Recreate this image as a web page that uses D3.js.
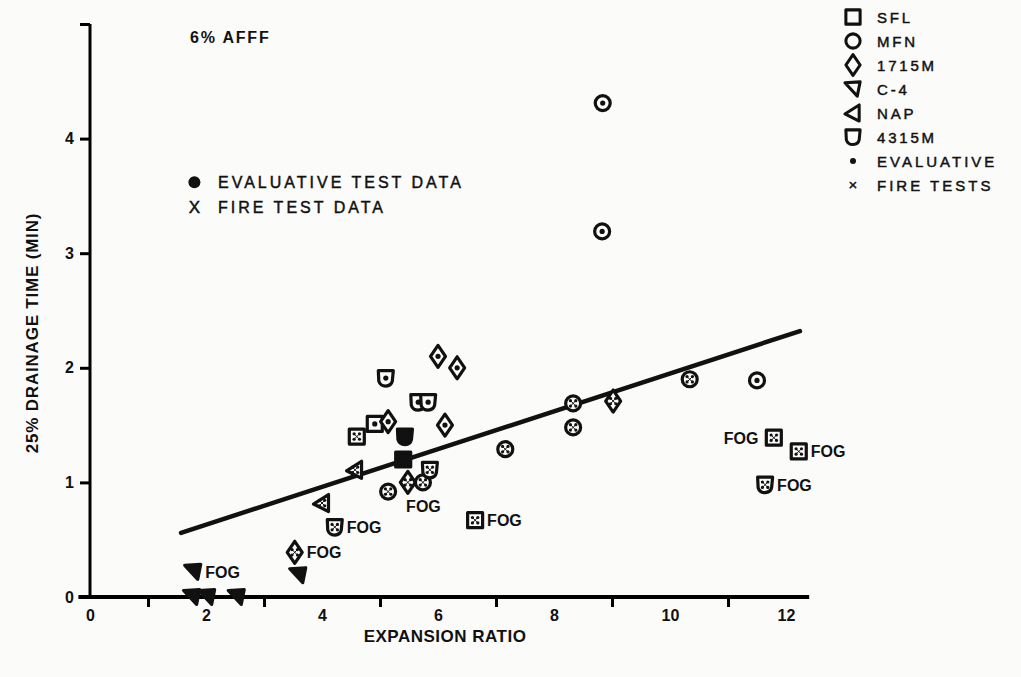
<!DOCTYPE html>
<html><head><meta charset="utf-8">
<script src="https://cdn.jsdelivr.net/npm/d3@7/dist/d3.min.js"></script>
<style>
body{margin:0;background:#fbfbfa;}
text{font-family:"Liberation Sans",Arial,sans-serif;fill:#111;}
text.heavy{stroke:#111;stroke-width:0.45px;}
</style></head>
<body><svg id="c" width="1021" height="677"></svg>
<script>
// ---- data ----
const seriesNames = ["SFL","MFN","1715M","C-4","NAP","4315M"];
const ptX      = [8.84,8.83,5.10,6.00,6.33,5.66,5.83,6.12,4.91,5.14,4.60,5.43,5.40,4.57,5.48,5.74,5.86,5.14,4.00,4.22,3.53,3.59,1.78,1.76,2.02,2.53,7.16,8.33,8.33,9.02,10.34,11.50,11.79,12.22,11.64,6.64];
const ptY      = [4.31,3.19,1.91,2.10,2.00,1.70,1.70,1.50,1.51,1.53,1.40,1.40,1.20,1.11,1.00,1.00,1.11,0.92,0.82,0.61,0.39,0.19,0.22,0.00,0.00,0.00,1.29,1.69,1.48,1.71,1.90,1.89,1.39,1.27,0.98,0.67];
const ptSeries = ["MFN","MFN","4315M","1715M","1715M","4315M","4315M","1715M","SFL","1715M","SFL","4315M","SFL","NAP","1715M","MFN","4315M","MFN","NAP","4315M","1715M","C-4","C-4","C-4","C-4","C-4","MFN","MFN","MFN","1715M","MFN","MFN","SFL","SFL","4315M","SFL"];
const ptTest   = ["eval","eval","eval","eval","eval","eval","eval","eval","eval","eval","fire","solid","solid","fire","fire","fire","fire","fire","fire","fire","fire","solid","solid","solid","solid","solid","fire","fire","fire","fire","fire","eval","fire","fire","fire","fire"];
const ptLabel  = ["","","","","","","","","","","","","","","","","","FOG","","FOG","FOG","","FOG","","","","","","","","","","FOG","FOG","FOG","FOG"];
const fitX = [1.57, 12.24];
const fitY = [0.56, 2.32];
const xTickMarks = [1,3,5,7,9,11];
const xTickLabels = [0,2,4,6,8,10,12];
const yTicks = [0,1,2,3,4,5];
const yTickLabels = ["0","1","2","3","4",""];
const legendTests = ["EVALUATIVE","FIRE TESTS"];

// ---- setup ----
const svg = d3.select("#c");
const x = d3.scaleLinear().domain([-0.2,12.4]).range([78.4,809.2]);
const y = d3.scaleLinear().domain([0,5]).range([597,24]);

// symbol paths
function shapePath(s){
  switch(s){
    case "SFL": return "M-7.5,-7.5L7.5,-7.5L7.5,7.5L-7.5,7.5Z";
    case "MFN": return "M-7.5,0A7.5,7.5 0 1,0 7.5,0A7.5,7.5 0 1,0 -7.5,0Z";
    case "1715M": return "M0,-11L7.5,0L0,11L-7.5,0Z";
    case "C-4": return "M-8.5,-6.5L7.5,-7.5L4.5,7.5Z";
    case "NAP": return "M-8.5,1L6.5,-8.5L6.5,8.5Z";
    case "4315M": return "M-7.5,-7.5L7.5,-7.5L6.5,3Q5.5,7.5 0,8Q-5.5,8 -7,3Z";
  }
}

// axes
const gx = svg.append("g").attr("transform","translate(0,597)");
gx.call(d3.axisBottom(x).tickValues(xTickMarks).tickSize(10).tickFormat(""));
gx.select(".domain").attr("stroke-width",4).attr("d",`M${x(-0.2)},0H${x(12.4)}`);
gx.selectAll(".tick line").attr("stroke-width",3);
const gxl = svg.append("g").attr("transform","translate(0,597)");
gxl.call(d3.axisBottom(x).tickValues(xTickLabels).tickSize(0).tickPadding(13));
gxl.select(".domain").remove();
gxl.selectAll("text").style("font-size","16px").style("font-weight","bold").attr("fill","#111");

const gy = svg.append("g").attr("transform",`translate(${x(0)},0)`);
gy.call(d3.axisLeft(y).tickValues(yTicks).tickSize(10).tickPadding(6).tickFormat((d,i)=>yTickLabels[i]));
gy.select(".domain").attr("stroke-width",3).attr("d",`M0,${y(0)}V${y(5)}`);
gy.selectAll(".tick line").attr("stroke-width",3);
gy.selectAll("text").style("font-size","16px").style("font-weight","bold").attr("fill","#111");

// axis titles
svg.append("text").attr("x",445).attr("y",642).attr("text-anchor","middle")
  .style("font-size","17px").style("font-weight","bold").style("letter-spacing","0.5px").text("EXPANSION RATIO");
svg.append("text").attr("transform","translate(38,333) rotate(-90)").attr("text-anchor","middle")
  .style("font-size","17px").style("font-weight","bold").style("letter-spacing","0.8px").text("25% DRAINAGE TIME (MIN)");

svg.append("text").attr("x",190).attr("y",43).style("font-size","16px").style("font-weight","bold").style("letter-spacing","1.8px").text("6% AFFF");

// fit line
svg.append("line").attr("x1",x(fitX[0])).attr("y1",y(fitY[0])).attr("x2",x(fitX[1])).attr("y2",y(fitY[1]))
  .attr("stroke","#111").attr("stroke-width",4.5).attr("stroke-linecap","round");

// marker interior
function interior(g,t){
  if(t==="eval"){
    g.append("circle").attr("r",2.6).attr("fill","#111");
  } else if(t==="fire"){
    [[-2.7,-2.7],[2.7,-2.7],[-2.7,2.7],[2.7,2.7]].forEach(p=>g.append("circle").attr("cx",p[0]).attr("cy",p[1]).attr("r",1.6).attr("fill","#111"));
    g.append("path").attr("d","M-2.7,-2.7L2.7,2.7M2.7,-2.7L-2.7,2.7").attr("stroke","#111").attr("stroke-width",1);
  }
}

// points
const pts = svg.append("g").selectAll("g").data(ptX.map((v,i)=>i)).join("g")
  .attr("transform",i=>`translate(${x(ptX[i])},${y(ptY[i])})`);
pts.each(function(i){
  const g = d3.select(this);
  const solid = ptTest[i]==="solid";
  g.append("path").attr("d",shapePath(ptSeries[i]))
    .attr("fill",solid?"#111":"#fbfbfa").attr("stroke","#111").attr("stroke-width",3.2).attr("stroke-linejoin","round");
  if(!solid) interior(g,ptTest[i]);
});
// FOG labels
svg.append("g").selectAll("text").data(ptX.map((v,i)=>i).filter(i=>ptLabel[i])).join("text")
  .attr("x",i=>{ const s=ptSeries[i]; return x(ptX[i]) + ((ptX[i]>11.6 && ptX[i]<12 && s==="SFL")? -50 : 12) + (ptSeries[i]==="MFN"?6:0); })
  .attr("y",i=>y(ptY[i]) + 6 + (ptSeries[i]==="MFN"?14:0))
  .style("font-size","16px").style("font-weight","bold").text(i=>ptLabel[i]);

// in-plot legend
svg.append("circle").attr("cx",x(1.8)).attr("cy",y(3.62)).attr("r",6).attr("fill","#111");
svg.append("text").attr("class","heavy").attr("x",218).attr("y",y(3.62)+6).style("font-size","16px").style("letter-spacing","3px").text("EVALUATIVE TEST DATA");
svg.append("text").attr("class","heavy").attr("x",x(1.8)).attr("y",y(3.4)+6).attr("text-anchor","middle").style("font-size","17px").text("X");
svg.append("text").attr("class","heavy").attr("x",218).attr("y",y(3.4)+6).style("font-size","16px").style("letter-spacing","3px").text("FIRE TEST DATA");

// right legend
const lg = svg.append("g");
seriesNames.forEach((s,i)=>{
  const cy = 17 + i*24;
  lg.append("path").attr("transform",`translate(853,${cy}) scale(0.95)`).attr("d",shapePath(s))
    .attr("fill","none").attr("stroke","#111").attr("stroke-width",3.2).attr("stroke-linejoin","round");
  lg.append("text").attr("class","heavy").attr("x",877).attr("y",cy+6).style("font-size","15px").style("letter-spacing","2.8px").text(s);
});
legendTests.forEach((s,i)=>{
  const cy = 161 + i*24;
  if(i===0) lg.append("circle").attr("cx",853).attr("cy",cy).attr("r",3).attr("fill","#111");
  else lg.append("text").attr("class","heavy").attr("x",853).attr("y",cy+5).attr("text-anchor","middle").style("font-size","15px").text("×");
  lg.append("text").attr("class","heavy").attr("x",877).attr("y",cy+6).style("font-size","15px").style("letter-spacing","3px").text(s);
});
</script></body></html>
